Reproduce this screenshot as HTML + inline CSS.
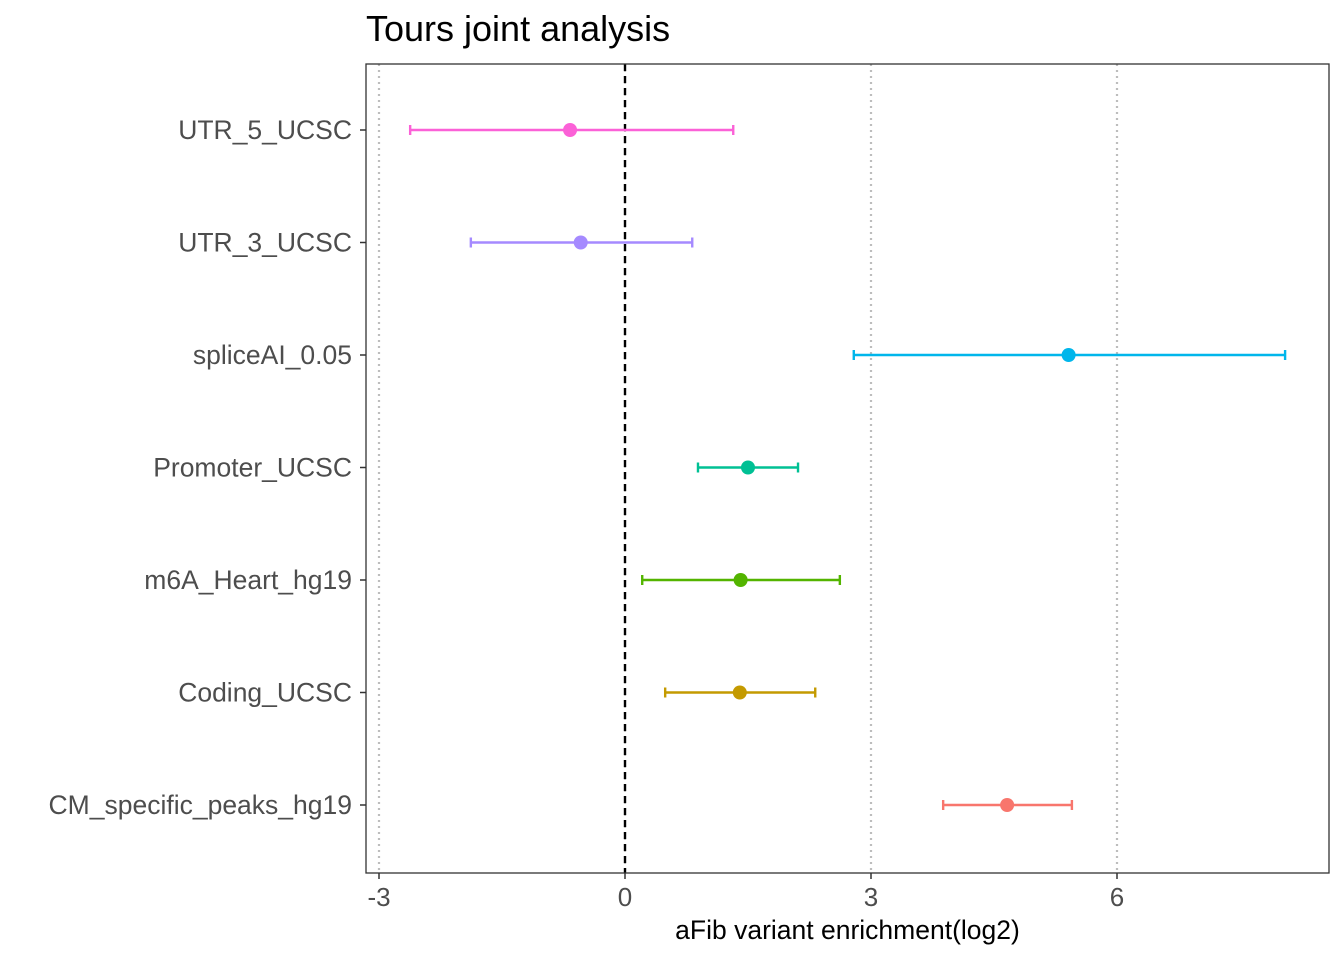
<!DOCTYPE html>
<html><head><meta charset="utf-8"><style>
html,body{margin:0;padding:0;background:#fff;}
svg{display:block;font-family:"Liberation Sans",sans-serif;}
</style></head><body>
<svg id="chart" width="1344" height="960"></svg>
<script>
const categories = ["UTR_5_UCSC","UTR_3_UCSC","spliceAI_0.05","Promoter_UCSC","m6A_Heart_hg19","Coding_UCSC","CM_specific_peaks_hg19"];
const estimates = [-0.67,-0.54,5.41,1.50,1.41,1.40,4.66];
const lowers = [-2.62,-1.88,2.79,0.89,0.21,0.49,3.88];
const uppers = [1.32,0.82,8.05,2.11,2.62,2.32,5.45];
const colors = ["#FB61D7","#A58AFF","#00B6EB","#00C094","#53B400","#C49A00","#F8766D"];
const xTicks = [-3,0,3,6];

const NS="http://www.w3.org/2000/svg";
const svg=document.getElementById('chart');
const L=366,R=1329,T=64,B=873;
const x=v=>625+v*82;
const y=i=>130+i*112.5;
function mk(tag,attrs,parent){const e=document.createElementNS(NS,tag);for(const k in attrs)e.setAttribute(k,attrs[k]);(parent||svg).appendChild(e);return e;}

const title=mk('text',{x:366,y:41,'font-size':36,fill:'#000'});


title.textContent='Tours joint analysis';

xTicks.forEach(t=>{
  const g=mk('line',{x1:x(t),x2:x(t),y1:T,y2:B,stroke:'#bdbdbd','stroke-width':2.2,'stroke-dasharray':'2,4'});
  
  
});
const zl=mk('line',{x1:x(0),x2:x(0),y1:T,y2:B,stroke:'#000','stroke-width':2.4,'stroke-dasharray':'7,5'});



categories.forEach((c,i)=>{
  const g=mk('g',{});
  
  
  const yy=y(i);
  mk('line',{x1:x(lowers[i]),x2:x(uppers[i]),y1:yy,y2:yy,stroke:colors[i],'stroke-width':2.4},g);
  mk('line',{x1:x(lowers[i]),x2:x(lowers[i]),y1:yy-5,y2:yy+5,stroke:colors[i],'stroke-width':2.4},g);
  mk('line',{x1:x(uppers[i]),x2:x(uppers[i]),y1:yy-5,y2:yy+5,stroke:colors[i],'stroke-width':2.4},g);
  const p=mk('circle',{cx:x(estimates[i]),cy:yy,r:7,fill:colors[i]},g);
  
  
  mk('line',{x1:L-6,x2:L,y1:yy,y2:yy,stroke:'#333','stroke-width':1.5});
  const lb=mk('text',{x:L-14,y:yy+9,'font-size':26.5,fill:'#4d4d4d','text-anchor':'end'});
  
  
  lb.textContent=c;
});

const frame=mk('rect',{x:L,y:T,width:R-L,height:B-T,fill:'none',stroke:'#333','stroke-width':1.3});



xTicks.forEach(t=>{
  mk('line',{x1:x(t),x2:x(t),y1:B,y2:B+6,stroke:'#333','stroke-width':1.5});
  const tl=mk('text',{x:x(t),y:B+33,'font-size':26,fill:'#4d4d4d','text-anchor':'middle'});
  
  
  tl.textContent=t;
});
const xt=mk('text',{x:(L+R)/2,y:939,'font-size':26.5,fill:'#000','text-anchor':'middle'});


xt.textContent='aFib variant enrichment(log2)';
</script>
</body></html>
